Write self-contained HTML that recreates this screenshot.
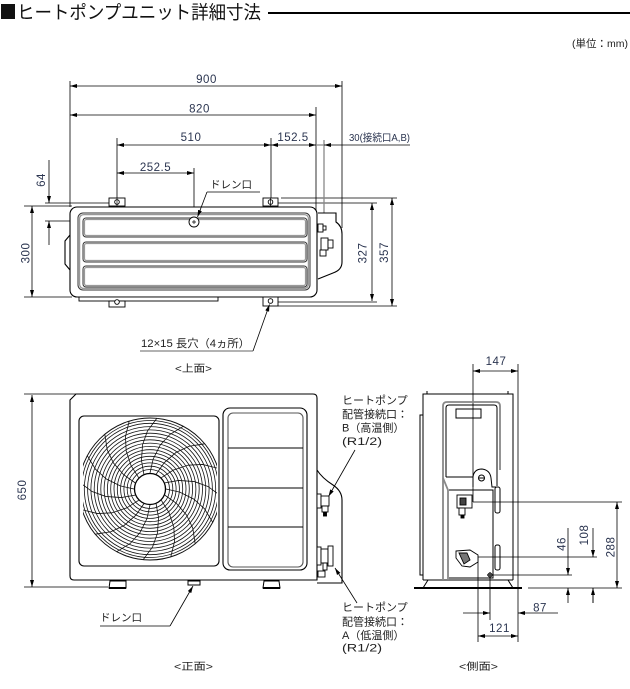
<!DOCTYPE html>
<html><head><meta charset="utf-8">
<style>
html,body{margin:0;padding:0;background:#fff;}
svg{display:block;}
text{font-family:"Liberation Sans","Noto Sans CJK JP",sans-serif;}
.n{font-size:11.5px;fill:#2b3550;letter-spacing:0.5px;}
.j{font-size:11px;fill:#222;}
</style></head><body>
<svg width="630" height="689" viewBox="0 0 630 689" xmlns="http://www.w3.org/2000/svg">
<defs>
<marker id="ar" markerUnits="userSpaceOnUse" markerWidth="7" markerHeight="5" refX="7" refY="2.5" orient="auto-start-reverse"><path d="M0,0.5 L7,2.5 L0,4.5z" fill="#000"/></marker>
<clipPath id="fc"><rect x="83" y="410" width="134" height="160"/></clipPath>
</defs>
<rect width="630" height="689" fill="#fff"/>

<!-- header -->
<rect x="1" y="4" width="14" height="15" fill="#111"/>
<text x="17" y="19" textLength="244" lengthAdjust="spacingAndGlyphs" style="font-size:18.5px;fill:#111">ヒートポンプユニット詳細寸法</text>
<line x1="268" y1="13" x2="630" y2="13" stroke="#000" stroke-width="2"/>
<text x="628" y="47" text-anchor="end" style="font-size:10.5px;fill:#222">(単位：mm)</text>

<!-- ============ TOP VIEW ============ -->
<g stroke="#000" stroke-width="0.8" fill="none">
 <path d="M70,81V207 M342,81V228 M316,107V213 M117,138V208 M271,138V208 M194,168V228 M45,203H110 M45,221H189 M24,206H72 M24,297H72 M278,203H377 M281,198H397 M278,302H377 M278,306H397"/>
</g>
<path d="M324,140V250 M316,145H324" stroke="#888" stroke-width="1.3" fill="none"/>
<g stroke="#000" stroke-width="0.8" fill="none">
 <line x1="70" y1="86" x2="342" y2="86" marker-start="url(#ar)" marker-end="url(#ar)"/>
 <line x1="70" y1="115" x2="316" y2="115" marker-start="url(#ar)" marker-end="url(#ar)"/>
 <line x1="117" y1="145" x2="271" y2="145" marker-start="url(#ar)" marker-end="url(#ar)"/>
 <line x1="271" y1="145" x2="316" y2="145" marker-start="url(#ar)" marker-end="url(#ar)"/>
 <line x1="410" y1="145" x2="324" y2="145" marker-end="url(#ar)"/>
 <line x1="117" y1="173" x2="194" y2="173" marker-start="url(#ar)" marker-end="url(#ar)"/>
 <line x1="49" y1="160" x2="49" y2="203" marker-end="url(#ar)"/>
 <line x1="49" y1="245" x2="49" y2="221" marker-end="url(#ar)"/>
 <line x1="32" y1="206" x2="32" y2="297" marker-start="url(#ar)" marker-end="url(#ar)"/>
 <line x1="372" y1="203" x2="372" y2="301" marker-start="url(#ar)" marker-end="url(#ar)"/>
 <line x1="392" y1="198" x2="392" y2="306" marker-start="url(#ar)" marker-end="url(#ar)"/>
</g>
<text class="n" x="206.5" y="83" text-anchor="middle">900</text>
<text class="n" x="199.5" y="112.5" text-anchor="middle">820</text>
<text class="n" x="191" y="141" text-anchor="middle">510</text>
<text class="n" x="293" y="141" text-anchor="middle">152.5</text>
<text x="349" y="141" textLength="61" lengthAdjust="spacingAndGlyphs" style="font-size:10.5px;fill:#2b3550">30(接続口A,B)</text>
<text class="n" x="155.5" y="171" text-anchor="middle">252.5</text>
<text class="n" x="45" y="180" text-anchor="middle" transform="rotate(-90 45 180)">64</text>
<text class="n" x="29.5" y="253" text-anchor="middle" transform="rotate(-90 29.5 253)">300</text>
<text class="n" x="366.5" y="253" text-anchor="middle" transform="rotate(-90 366.5 253)">327</text>
<text class="n" x="388" y="252.5" text-anchor="middle" transform="rotate(-90 388 252.5)">357</text>

<!-- body top -->
<g stroke="#000" stroke-width="1.1" fill="#fff">
 <path d="M70,235 L65,241 L65,264 L70,270" fill="none"/>
 <path d="M318,213 L336,213 L336,222 Q342,226 342,234 L342,262 Q342,270 333,273 L318,279"/>
 <rect x="70" y="207" width="247" height="90" rx="7"/>
 <rect x="79" y="297" width="139" height="4" stroke-width="0.9"/>
</g>
<rect x="78" y="213" width="232" height="77" rx="5" stroke="#333" stroke-width="1" fill="none"/>
<rect x="79.6" y="214.6" width="228.8" height="73.8" rx="4" stroke="#999" stroke-width="1.3" fill="none"/>
<g fill="none">
 <rect x="83" y="218" width="224" height="19" rx="3" stroke="#333" stroke-width="1"/>
 <rect x="84.5" y="219.5" width="221" height="16" rx="2" stroke="#999" stroke-width="1.2"/>
 <rect x="83" y="242" width="224" height="20" rx="3" stroke="#333" stroke-width="1"/>
 <rect x="84.5" y="243.5" width="221" height="17" rx="2" stroke="#999" stroke-width="1.2"/>
 <rect x="83" y="266" width="224" height="21" rx="3" stroke="#333" stroke-width="1"/>
 <rect x="84.5" y="267.5" width="221" height="18" rx="2" stroke="#999" stroke-width="1.2"/>
</g>
<g stroke="#000" stroke-width="0.9" fill="#fff">
 <rect x="109" y="198" width="16" height="8"/>
 <rect x="263" y="198" width="15" height="8"/>
 <rect x="109" y="301" width="16" height="6"/>
 <rect x="263" y="297" width="15" height="9"/>
 <circle cx="117" cy="202" r="2.3"/>
 <circle cx="270.5" cy="202" r="2.3"/>
 <circle cx="117" cy="302" r="2.3"/>
 <circle cx="270.5" cy="301" r="2.3"/>
 <circle cx="194" cy="222" r="5"/>
 <rect x="318" y="224" width="5" height="8"/>
 <rect x="323" y="226" width="3" height="4"/>
 <rect x="321" y="238" width="7" height="12"/>
 <rect x="328" y="240" width="5" height="8"/>
 <rect x="320" y="250" width="6" height="6"/>
</g>
<path d="M117,198V206 M270.5,198V206 M192,222H196 M194,220V224" stroke="#000" stroke-width="0.7"/>

<!-- labels top -->
<text class="j" x="210" y="188" style="font-size:10.5px">ドレン口</text>
<path d="M207,192H260" stroke="#000" stroke-width="0.8"/>
<line x1="207" y1="192" x2="197.5" y2="217" stroke="#000" stroke-width="0.8" marker-end="url(#ar)"/>
<text class="j" x="141" y="347" textLength="109" lengthAdjust="spacingAndGlyphs">12×15 長穴（4ヵ所）</text>
<path d="M140,351H253" stroke="#666" stroke-width="1"/>
<line x1="253" y1="351" x2="269.5" y2="304.5" stroke="#000" stroke-width="0.8" marker-end="url(#ar)"/>
<text class="j" x="175" y="372" textLength="37" lengthAdjust="spacingAndGlyphs" style="font-size:10px">&lt;上面&gt;</text>

<!-- ============ FRONT VIEW ============ -->
<path d="M24,394H78 M24,587H108" stroke="#000" stroke-width="0.8" fill="none"/>
<line x1="32" y1="395" x2="32" y2="587" stroke="#000" stroke-width="0.8" marker-start="url(#ar)" marker-end="url(#ar)"/>
<text class="n" x="26" y="490" text-anchor="middle" transform="rotate(-90 26 490)">650</text>

<g stroke="#000" stroke-width="1.1" fill="#fff">
 <path d="M317,470 Q322,478 333,485 Q342,491 342,500 L342,583 L317,583"/>
 <path d="M70,400 L76,394 L313,394 Q317,394 317,398 L317,580 L74,580 Q70,580 70,576 Z"/>
 <rect x="79" y="416" width="140" height="150" rx="5"/>
 <rect x="223" y="408" width="84" height="162" rx="7"/>
</g>
<rect x="228" y="413" width="75" height="154" rx="5" stroke="#555" stroke-width="1.1" fill="none"/>
<path d="M228,448H303 M228,488H303 M228,527H303" stroke="#000" stroke-width="1"/>

<!-- fan grille -->
<g clip-path="url(#fc)" stroke="#111" stroke-width="0.8" fill="none">
 <circle cx="150" cy="489" r="71" stroke-width="1"/>
 <circle cx="150" cy="489" r="19.5"/><circle cx="150" cy="489" r="22.8"/><circle cx="150" cy="489" r="26.1"/>
 <circle cx="150" cy="489" r="29.4"/><circle cx="150" cy="489" r="32.7"/><circle cx="150" cy="489" r="36"/>
 <circle cx="150" cy="489" r="39.3"/><circle cx="150" cy="489" r="42.6"/><circle cx="150" cy="489" r="45.9"/>
 <circle cx="150" cy="489" r="49.2"/><circle cx="150" cy="489" r="52.5"/><circle cx="150" cy="489" r="55.8"/>
 <circle cx="150" cy="489" r="59.1"/><circle cx="150" cy="489" r="62.4"/><circle cx="150" cy="489" r="65.7"/>
 <circle cx="150" cy="489" r="68.5"/>
 <g transform="translate(150 489)">
  <path d="M16,0 L29.8,3.1 L43.8,10.1 L54.5,19.8 L62.7,33.3"/>
  <path transform="rotate(22.5)" d="M16,0 L29.8,3.1 L43.8,10.1 L54.5,19.8 L62.7,33.3"/>
  <path transform="rotate(45)" d="M16,0 L29.8,3.1 L43.8,10.1 L54.5,19.8 L62.7,33.3"/>
  <path transform="rotate(67.5)" d="M16,0 L29.8,3.1 L43.8,10.1 L54.5,19.8 L62.7,33.3"/>
  <path transform="rotate(90)" d="M16,0 L29.8,3.1 L43.8,10.1 L54.5,19.8 L62.7,33.3"/>
  <path transform="rotate(112.5)" d="M16,0 L29.8,3.1 L43.8,10.1 L54.5,19.8 L62.7,33.3"/>
  <path transform="rotate(135)" d="M16,0 L29.8,3.1 L43.8,10.1 L54.5,19.8 L62.7,33.3"/>
  <path transform="rotate(157.5)" d="M16,0 L29.8,3.1 L43.8,10.1 L54.5,19.8 L62.7,33.3"/>
  <path transform="rotate(180)" d="M16,0 L29.8,3.1 L43.8,10.1 L54.5,19.8 L62.7,33.3"/>
  <path transform="rotate(202.5)" d="M16,0 L29.8,3.1 L43.8,10.1 L54.5,19.8 L62.7,33.3"/>
  <path transform="rotate(225)" d="M16,0 L29.8,3.1 L43.8,10.1 L54.5,19.8 L62.7,33.3"/>
  <path transform="rotate(247.5)" d="M16,0 L29.8,3.1 L43.8,10.1 L54.5,19.8 L62.7,33.3"/>
  <path transform="rotate(270)" d="M16,0 L29.8,3.1 L43.8,10.1 L54.5,19.8 L62.7,33.3"/>
  <path transform="rotate(292.5)" d="M16,0 L29.8,3.1 L43.8,10.1 L54.5,19.8 L62.7,33.3"/>
  <path transform="rotate(315)" d="M16,0 L29.8,3.1 L43.8,10.1 L54.5,19.8 L62.7,33.3"/>
  <path transform="rotate(337.5)" d="M16,0 L29.8,3.1 L43.8,10.1 L54.5,19.8 L62.7,33.3"/>
 </g>
</g>
<circle cx="150" cy="489" r="15.5" stroke="#000" stroke-width="1.3" fill="#fff"/>

<!-- feet & drain -->
<g stroke="#000" stroke-width="1" fill="#fff">
 <path d="M110,581 L126,581 L126,588 L109,588 Z"/>
 <path d="M264,581 L279,581 L280,588 L263,588 Z"/>
 <rect x="188" y="581" width="12" height="4"/>
</g>
<path d="M109,588H126 M263,588H280" stroke="#000" stroke-width="2"/>

<!-- front valves -->
<g stroke="#000" stroke-width="0.9" fill="#fff">
 <rect x="317" y="494" width="4" height="14"/>
 <rect x="321" y="496" width="8" height="10"/>
 <rect x="322" y="506" width="6" height="6"/>
 <rect x="323.5" y="512" width="3" height="4" fill="#000"/>
 <rect x="317" y="547" width="4" height="18"/>
 <rect x="321" y="549" width="7" height="14"/>
 <rect x="328" y="546" width="5" height="20"/>
 <rect x="323" y="563" width="4" height="7"/>
 <rect x="318" y="571" width="7" height="6"/>
</g>

<!-- front labels -->
<text class="j" x="342" y="404">ヒートポンプ</text>
<text class="j" x="342" y="418">配管接続口：</text>
<text class="j" x="342" y="431.5">B（高温側）</text>
<text class="j" x="342" y="445" textLength="40" lengthAdjust="spacingAndGlyphs">(R1/2)</text>
<line x1="355" y1="450" x2="328.5" y2="496.5" stroke="#000" stroke-width="0.8" marker-end="url(#ar)"/>
<text class="j" x="342" y="611">ヒートポンプ</text>
<text class="j" x="342" y="625.5">配管接続口：</text>
<text class="j" x="342" y="639">A（低温側）</text>
<text class="j" x="342" y="651.5" textLength="40" lengthAdjust="spacingAndGlyphs">(R1/2)</text>
<line x1="357" y1="603" x2="335" y2="568" stroke="#000" stroke-width="0.8" marker-end="url(#ar)"/>

<text class="j" x="100" y="621" style="font-size:10.5px">ドレン口</text>
<path d="M100,626H170" stroke="#666" stroke-width="1.2"/>
<line x1="170" y1="626" x2="193" y2="586" stroke="#000" stroke-width="0.8" marker-end="url(#ar)"/>
<text class="j" x="174" y="670" textLength="39" lengthAdjust="spacingAndGlyphs" style="font-size:10px">&lt;正面&gt;</text>

<!-- ============ SIDE VIEW ============ -->
<g stroke="#000" stroke-width="0.8" fill="none">
 <path d="M473,364V502 M518,364V642 M473,502H622 M528,588H622 M477,557H597 M490,575H572 M478,557V642 M490,575V620 M593,603V588"/>
 <line x1="473" y1="371" x2="518" y2="371" marker-start="url(#ar)" marker-end="url(#ar)"/>
 <line x1="617" y1="502" x2="617" y2="588" marker-start="url(#ar)" marker-end="url(#ar)"/>
 <line x1="593" y1="528" x2="593" y2="557" marker-end="url(#ar)"/>
 <line x1="593" y1="603" x2="593" y2="588" marker-end="url(#ar)"/>
 <line x1="568" y1="528" x2="568" y2="575" marker-end="url(#ar)"/>
 <line x1="568" y1="603" x2="568" y2="588" marker-end="url(#ar)"/>
 <line x1="463" y1="613" x2="490" y2="613" marker-end="url(#ar)"/>
 <line x1="558" y1="613" x2="518" y2="613" marker-end="url(#ar)"/>
 <line x1="478" y1="636" x2="518" y2="636" marker-start="url(#ar)" marker-end="url(#ar)"/>
</g>
<text class="n" x="496" y="365" text-anchor="middle">147</text>
<text class="n" x="614.5" y="547" text-anchor="middle" transform="rotate(-90 614.5 547)">288</text>
<text class="n" x="588" y="535" text-anchor="middle" transform="rotate(-90 588 535)">108</text>
<text class="n" x="565.5" y="544" text-anchor="middle" transform="rotate(-90 565.5 544)">46</text>
<text class="n" x="540" y="611.5" text-anchor="middle">87</text>
<text class="n" x="499.5" y="632" text-anchor="middle">121</text>

<g stroke="#000" stroke-width="1" fill="none">
 <path d="M423,580 V394 H513 V580"/>
 <path d="M427,391V394 M508,391V394"/>
 <path d="M423,415 H420 V575 H423"/>
 <path d="M446,477 V408 Q446,405 449,405 H494 Q497,405 497,408 V486"/>
 <rect x="456" y="409" width="25" height="9"/>
 <path d="M446,477 H473"/>
 <path d="M473,487 L473,477 Q474,469 482,469 Q490,470 491,478 L492,487 H496"/>
 <circle cx="481.5" cy="478" r="3"/>
 <path d="M478.5,478H484.5"/>
 <path d="M449,490 H493 V578 H449"/>
 <rect x="495" y="487" width="5" height="26" rx="2"/>
 <rect x="495" y="545" width="5" height="25" rx="2"/>
 <path d="M423,580 H513 M428,580 L423,588 M508,580 L513,588"/>
</g>
<path d="M443,580 V406 Q443,402 447,402 H496 Q500,402 500,406 V470" stroke="#888" stroke-width="1.8" fill="none"/>
<path d="M443,478 L448,490 V580" stroke="#888" stroke-width="1.8" fill="none"/>
<path d="M414,588H522" stroke="#000" stroke-width="2"/>
<g stroke="#000" stroke-width="0.9" fill="#fff">
 <rect x="457" y="495" width="15" height="13"/>
 <rect x="460" y="498" width="6" height="7" fill="#444"/>
 <rect x="459" y="508" width="6" height="7"/>
 <rect x="461" y="515" width="3" height="3" fill="#000"/>
 <path d="M456,551 L470,550 L478,555 L478,562 L470,567 L462,566 L456,558 Z"/>
 <path d="M459,553 L467,553 L470,560 L464,564 Z" fill="#777"/>
</g>
<path d="M487,575H493 M490,572V578" stroke="#000" stroke-width="0.9"/>
<circle cx="490" cy="575" r="2" stroke="#000" stroke-width="0.8" fill="none"/>
<text class="j" x="459" y="670" textLength="39" lengthAdjust="spacingAndGlyphs" style="font-size:10px">&lt;側面&gt;</text>
</svg>
</body></html>
